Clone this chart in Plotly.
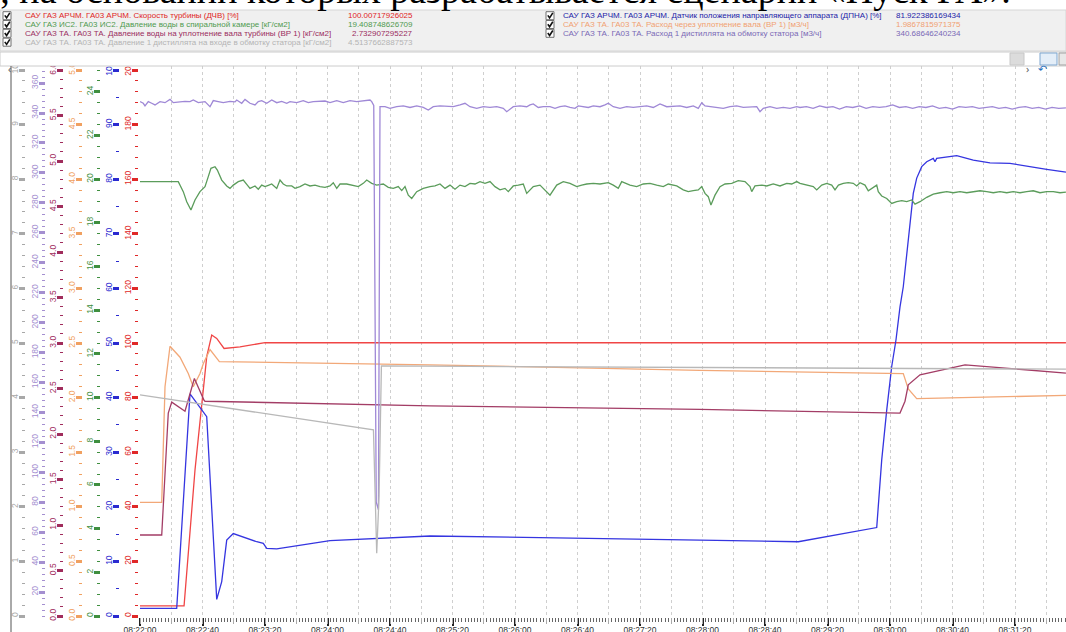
import plotly.graph_objects as go
import pandas as pd

W, H = 1066, 632
T0 = pd.Timestamp("2024-01-01 08:22:00")
T_END_S = 592.64

headline = "и, на основании которых разрабатывается сценарий «Пуск ГА»."

legend_names = [
    "САУ ГАЗ АРЧМ. ГА03 АРЧМ. Скорость турбины (ДЧВ) [%]",
    "САУ ГАЗ ИС2. ГА03 ИС2. Давление воды в спиральной камере [кГ/см2]",
    "САУ ГАЗ ТА. ГА03 ТА. Давление воды на уплотнение вала турбины (ВР 1) [кГ/см2]",
    "САУ ГАЗ ТА. ГА03 ТА. Давление 1 дистиллята на входе в обмотку статора [кГ/см2]",
    "САУ ГАЗ АРЧМ. ГА03 АРЧМ. Датчик положения направляющего аппарата (ДПНА) [%]",
    "САУ ГАЗ ТА. ГА03 ТА. Расход через уплотнение вала (ВР 1) [м3/ч]",
    "САУ ГАЗ ТА. ГА03 ТА. Расход 1 дистиллята на обмотку статора [м3/ч]",
]
legend_values = [
    "100.00717926025", "19.408748626709", "2.732907295227", "4.5137662887573",
    "81.922386169434", "1.9867815971375", "340.68646240234",
]

# ---------- series (time in seconds after 08:22:00, value in own units) ----------
red_t = [0, 28.2, 35.2, 42.7, 45.9, 49.1, 53.8, 64.0, 80.0, 592.6]
red_v = [3.7, 3.7, 53.5, 95.0, 102.9, 101.7, 98.0, 98.6, 100.1, 100.1]

blue_t = [0, 23.5, 32.0, 42.7, 49.1, 52.3, 55.5, 59.7, 74.7, 78.9, 81.1, 87.5, 121.6,
          151.5, 177.1, 185.6, 358.4, 421.3, 471.5, 474.7, 477.9, 481.1, 483.8, 486.4,
          488.5, 490.7, 492.8, 494.9, 497.1, 500.3, 503.5, 507.7, 508.8, 509.9, 522.7,
          533.3, 544.0, 556.8, 580.3, 592.6]
blue_v = [1.4, 1.4, 40.7, 36.5, 3.05, 6.3, 13.9, 15.1, 13.6, 13.3, 12.4, 12.3, 13.8,
          14.2, 14.65, 14.65, 13.9, 13.6, 16.2, 28.6, 37.7, 45.7, 50.5, 56.6,
          60.3, 66.4, 72.5, 77.4, 80.2, 82.3, 83.2, 83.8, 83.2, 83.8, 84.3,
          83.5, 83.0, 82.9, 81.8, 81.3]

green_t = [0, 24.5, 27.7, 29.9, 32.6, 35.2, 38.4, 41.6, 43.7, 45.4, 48.0, 49.5, 52.3, 55.5,
           57.6, 59.7, 62.9, 66.1, 68.7, 70.4, 73.6, 75.7, 77.9, 80.0, 82.1, 84.3, 87.5,
           89.6, 91.7, 93.9, 97.1, 99.2, 102.4, 105.6, 108.8, 112.0, 115.2, 118.4, 121.6,
           123.7, 125.9, 128.0, 132.3, 136.5, 139.7, 142.9, 145.1, 148.3, 151.5, 155.7,
           158.9, 162.1, 165.3, 167.5, 169.6, 171.7, 173.9, 177.1, 181.3, 185.6, 188.8,
           192.0, 195.2, 198.4, 201.6, 204.8, 208.0, 211.2, 214.4, 217.6, 220.8, 224.0,
           227.2, 230.4, 233.6, 235.7, 238.9, 242.1, 245.3, 247.5, 249.6,
           251.7, 256.0, 262.4, 266.7, 270.9, 275.2, 279.5, 282.7, 285.9, 290.1, 294.4,
           299.7, 302.9, 306.1, 308.3, 313.6, 317.9, 322.1, 326.4, 330.7, 334.9, 338.1,
           343.5, 347.7, 350.9, 354.1, 357.3, 359.5, 361.6, 363.7, 365.4, 368.0, 371.2,
           374.4, 378.7, 382.9, 387.2, 390.4, 391.5, 393.6, 397.9, 401.1, 405.3, 409.6,
           413.9, 417.1, 420.3, 422.4,
           426.7, 430.9, 433.1, 436.3, 439.5, 442.7, 444.8, 447.0, 450.1, 453.3, 456.5,
           458.7, 460.8, 464.0, 466.1, 468.3, 471.5, 472.5, 474.7, 477.9, 481.1, 484.3,
           487.5, 490.7, 493.9, 496.0, 499.2, 503.5, 507.7, 512.0, 516.3, 520.5, 524.8,
           529.1, 533.3, 537.6, 541.9, 546.1, 550.4, 554.7, 558.9, 563.2, 567.5, 571.7,
           576.0, 580.3, 584.5, 588.8, 592.6]
green_v = [19.89, 19.89, 19.43, 18.97, 18.59, 19.05, 19.43, 19.66, 20.12, 20.50, 20.57, 20.42,
           19.96, 19.69, 19.58, 19.73, 19.89, 19.96, 19.73, 19.58, 19.69, 19.54, 19.73, 19.66,
           19.72, 19.78, 19.58, 19.96, 19.78, 19.69, 19.69, 19.58, 19.66, 19.78, 19.69, 19.73,
           19.66, 19.63, 19.69, 19.84, 19.58, 19.78, 19.78, 19.73, 19.66, 19.81, 19.96, 19.81,
           19.73, 19.78, 19.63, 19.58, 19.66, 19.48, 19.66, 19.27, 19.12, 19.43, 19.58, 19.66,
           19.69, 19.78, 19.58, 19.73, 19.54, 19.73, 19.66, 19.81, 19.78, 19.89, 19.81, 19.89,
           19.66, 19.51, 19.58, 19.43, 19.69, 19.73, 19.78, 19.35, 19.51,
           19.66, 19.73, 19.27, 19.73, 19.89, 19.81, 19.66, 19.73, 19.78, 19.81, 19.78,
           19.84, 19.73, 19.58, 19.89, 19.73, 19.66, 19.78, 19.81, 19.73, 19.66, 19.78,
           19.69, 19.51, 19.43, 19.48, 19.51, 19.66, 19.35, 19.20, 18.82, 19.27, 19.66,
           19.78, 19.81, 19.93, 19.89, 19.66, 19.43, 19.69, 19.73, 19.69, 19.78, 19.69,
           19.81, 19.78, 19.89, 19.81,
           19.73, 19.66, 19.51, 19.73, 19.81, 19.73, 19.51, 19.73, 19.81, 19.84, 19.81,
           19.69, 19.84, 19.73, 19.47, 19.58, 19.73, 19.43, 19.23, 19.12, 18.89, 18.97,
           19.02, 18.97, 19.05, 18.86, 18.97, 19.17, 19.32, 19.38, 19.43, 19.38, 19.43,
           19.38, 19.43, 19.47, 19.43, 19.38, 19.43, 19.38, 19.43, 19.38, 19.43, 19.47,
           19.38, 19.43, 19.43, 19.38, 19.41]

maroon_t = [0, 13.9, 18.1, 20.3, 28.8, 34.8, 41.0, 41.6, 185.6, 358.4, 486.4, 489.6,
            491.7, 499.2, 528.0, 592.6]
maroon_v = [0.89, 0.89, 2.23, 2.35, 2.25, 2.61, 2.37, 2.36, 2.31, 2.27, 2.23, 2.36,
            2.54, 2.65, 2.76, 2.67]

orange_t = [0, 13.9, 16.0, 19.2, 25.6, 30.9, 34.1, 38.4, 40.5, 44.8, 50.8, 185.6, 358.4,
            488.5, 491.7, 497.1, 592.6]
orange_v = [1.04, 1.04, 2.10, 2.47, 2.37, 2.22, 2.10, 2.22, 2.31, 2.44, 2.33, 2.30, 2.25,
            2.22, 2.08, 1.99, 2.02]

gray_t = [0, 148.3, 149.4, 151.5, 153.0, 154.5, 350.0, 592.6]
gray_v = [4.05, 3.42, 3.41, 1.15, 2.2, 4.58, 4.555, 4.52]

purple_t = [0, 2.1, 3.2, 5.3, 7.5, 9.6, 12.8, 16.0, 19.2, 21.3, 25.6, 28.8, 32.0, 34.1, 37.3,
            41.6, 44.8, 46.9, 50.1, 53.3, 57.6, 60.8, 61.9, 65.1, 67.2, 70.4, 73.6, 75.7,
            77.9, 81.1, 84.3, 87.5, 90.7, 93.9, 96.0, 100.3, 104.5, 107.7, 110.9, 114.1,
            118.4, 121.6, 125.9, 130.1, 134.4, 138.7, 142.9, 147.2, 148.3,
            149.6, 151.2, 152.6,
            153.6, 156.8, 160.0, 164.3, 168.5, 172.8, 177.1, 181.3, 184.5, 187.7, 192.0,
            196.3, 200.5, 204.8, 208.0, 211.2, 215.5, 219.7, 224.0, 228.3, 232.5, 234.7,
            238.9, 243.2, 247.5,
            249.6, 251.7, 254.9, 258.1, 262.4, 265.6, 268.8, 272.0, 275.2, 278.4, 280.5,
            283.7, 286.9, 290.1, 294.4, 297.6, 299.7, 302.9, 307.2, 311.5, 315.7, 320.0,
            324.3, 328.5, 332.8, 337.1, 341.3, 345.6, 349.9, 354.1, 357.3, 359.5, 361.6,
            364.8, 369.1, 373.3, 377.6, 381.9, 386.1, 390.4, 394.7, 396.8, 398.9, 403.2,
            407.5, 411.7, 416.0, 420.3, 422.4,
            426.5, 430.8, 435.0, 439.2, 443.5, 447.7, 452.0, 456.2, 460.5, 464.7, 469.0,
            473.2, 477.5, 481.7, 486.0, 490.2, 494.5, 498.7, 503.0, 507.2, 511.5, 515.7,
            520.0, 524.2, 528.5, 532.7, 537.0, 541.2, 545.5, 549.7, 554.0, 558.2, 562.5,
            566.7, 571.0, 575.2, 579.5, 583.7, 588.0, 592.6]
purple_v = [347.6, 346.5, 344.7, 347.6, 346.5, 345.4, 347.6, 346.9, 349.1, 346.9, 347.4, 347.8,
            347.6, 348.7, 346.9, 347.6, 344.2, 348.3, 347.6, 346.9, 347.8, 347.4, 348.7, 346.5,
            349.1, 346.5, 345.4, 347.6, 348.3, 346.5, 348.7, 346.9, 347.8, 346.5, 347.6, 346.9,
            348.3, 346.9, 347.6, 347.6, 348.0, 346.9, 348.3, 346.9, 348.3, 347.6, 348.3, 348.7,
            347.6,
            345.0, 80.0, 75.0,
            344.2, 344.2, 343.1, 344.2, 344.7, 343.7, 344.7, 343.7, 342.0, 344.2, 344.7,
            344.2, 344.2, 345.4, 346.5, 344.2, 343.1, 344.2, 343.7, 344.2, 343.1, 340.9,
            344.2, 344.7, 344.2,
            345.4, 346.1, 343.7, 344.2, 344.2, 343.1, 344.2, 344.7, 343.7, 343.1, 344.7,
            344.2, 343.7, 344.7, 344.2, 345.4, 346.5, 344.2, 343.1, 344.2, 343.7, 344.2,
            344.7, 343.7, 346.1, 344.2, 344.2, 344.7, 343.7, 344.7, 343.1, 346.9, 344.7,
            344.2, 343.7, 343.1, 344.2, 344.7, 343.7, 344.2, 344.2, 340.9, 343.1, 344.2,
            343.1, 343.7, 343.1, 344.2, 343.7,
            344.2, 343.1, 344.7, 343.7, 344.2, 342.6, 344.2, 343.7, 344.7, 343.1, 344.2,
            343.7, 344.2, 345.4, 343.7, 344.2, 343.1, 344.2, 343.7, 344.7, 343.1, 343.7,
            342.6, 344.2, 343.7, 344.2, 343.1, 343.7, 344.2, 343.1, 343.7, 342.6, 343.7,
            344.2, 343.1, 343.7, 342.6, 343.7, 343.1, 343.4]

# ---------- styling ----------
line_colors = {"red": "#f04545", "blue": "#3535e0", "green": "#5b9c5b", "maroon": "#a33d66",
               "orange": "#f2a878", "purple": "#9f88d6", "gray": "#b8b8b8"}
legend_colors = ["#e02525", "#4f9a4f", "#9b2d60", "#b4b4b4", "#1c1ca8", "#f0a070", "#7a68b6"]

PLOT_TOP, PLOT_BOT, PLOT_LEFT = 66, 617, 140


def xp(px):
    return px / W


def yp(py):
    return (PLOT_BOT - py) / (PLOT_BOT - PLOT_TOP)


def tt(secs):
    return [T0 + pd.Timedelta(seconds=s) for s in secs]


fig = go.Figure()
fig.add_trace(go.Scatter(x=[], y=[], xaxis="x2", yaxis="y", showlegend=False, hoverinfo="skip"))
series = [
    (gray_t, gray_v, "gray", "y7"),
    (purple_t, purple_v, "purple", "y6"),
    (green_t, green_v, "green", "y3"),
    (orange_t, orange_v, "orange", "y4"),
    (maroon_t, maroon_v, "maroon", "y5"),
    (red_t, red_v, "red", "y"),
    (blue_t, blue_v, "blue", "y2"),
]
for t, v, c, ax in series:
    fig.add_trace(go.Scatter(x=tt(t), y=v, mode="lines", yaxis=ax, showlegend=False,
                             line=dict(color=line_colors[c], width=1.3)))


def yax(color, rng, dtick, mdtick, pos, fmt, overlay=True):
    d = dict(range=rng, dtick=dtick, tick0=0, anchor="free", position=pos / W, side="left",
             ticks="outside", ticklen=6, tickwidth=3, tickcolor=color, tickangle=-90,
             ticklabelstandoff=-2,
             tickfont=dict(size=8.5, color=color, family="Liberation Sans"), tickformat=fmt,
             showgrid=False, zeroline=False, showline=False, fixedrange=True, automargin=False,
             minor=dict(dtick=mdtick, tick0=0, ticks="outside", ticklen=3, tickwidth=1,
                        tickcolor=color, showgrid=False))
    if overlay:
        d["overlaying"] = "y"
    return d


def std_range(m):
    return [-m / 546, m * 550 / 546]


x_range = [T0, T0 + pd.Timedelta(seconds=T_END_S)]

fig.update_layout(
    width=W, height=H, margin=dict(l=0, r=0, t=PLOT_TOP, b=H - PLOT_BOT, autoexpand=False),
    paper_bgcolor="white", plot_bgcolor="white", showlegend=False,
    xaxis=dict(domain=[xp(PLOT_LEFT), 1], range=x_range, type="date", anchor="y", automargin=False,
               tickformat="%H:%M:%S", tick0=T0, dtick=40000, ticks="outside", ticklen=8,
               tickwidth=2, tickcolor="#222", ticklabelstandoff=-3,
               tickfont=dict(size=8.5, color="#333", family="Liberation Sans"),
               showgrid=False, zeroline=False, showline=False,
               minor=dict(dtick=2000, tick0=T0, ticks="outside", ticklen=4, tickwidth=1, tickcolor="#666")),
    xaxis2=dict(domain=[xp(PLOT_LEFT), 1], range=x_range, type="date", overlaying="x", anchor="y",
                automargin=False, tick0=T0, dtick=20000, ticks="outside", ticklen=6, tickwidth=1,
                tickcolor="#aaa", showticklabels=False, showgrid=True, gridcolor="#cfcfcf",
                griddash="dot", gridwidth=1, zeroline=False, showline=False),
    yaxis=yax("#e02828", std_range(200), 20, 4, 138, "d", overlay=False),
    yaxis2=yax("#2a2ad0", std_range(100), 10, 5, 119, "d"),
    yaxis3=yax("#3f8f3f", std_range(25), 2, 0.5, 100, "d"),
    yaxis4=yax("#f0a060", std_range(5), 0.5, 0.1, 82, ".1f"),
    yaxis5=yax("#a02c5c", std_range(6), 0.5, 0.1, 63, ".1f"),
    yaxis6=yax("#a48fd0", [3.34, 371.4], 20, 4, 45, "d"),
    yaxis7=yax("#a8a8a8", std_range(10), 1, 0.2, 25, "d"),
)

shapes = []
annotations = []
# legend panel
shapes.append(dict(type="rect", xref="paper", yref="paper", x0=0, x1=1, y0=yp(51), y1=yp(10),
                   fillcolor="#f0f0f0", line=dict(color="#d6d6d6", width=1), layer="above"))
# scroll row
shapes.append(dict(type="rect", xref="paper", yref="paper", x0=0, x1=1, y0=yp(66), y1=yp(52),
                   fillcolor="#ffffff", line=dict(color="#cccccc", width=1), layer="above"))
shapes.append(dict(type="rect", xref="paper", yref="paper", x0=xp(1010), x1=xp(1024), y0=yp(65), y1=yp(53),
                   fillcolor="#dcdcdc", line=dict(color="#c8c8c8", width=1), layer="above"))
shapes.append(dict(type="rect", xref="paper", yref="paper", x0=xp(1040), x1=xp(1057), y0=yp(65), y1=yp(53),
                   fillcolor="#e4eef8", line=dict(color="#7fa7d0", width=1), layer="above"))
shapes.append(dict(type="rect", xref="paper", yref="paper", x0=xp(1059), x1=xp(1070), y0=yp(65), y1=yp(53),
                   fillcolor="#e8e8e8", line=dict(color="#a0a0a0", width=1), layer="above"))
annotations.append(dict(text="‹", x=xp(6), y=yp(59), xref="paper", yref="paper", showarrow=False,
                        font=dict(size=11, color="#555")))
annotations.append(dict(text="›", x=xp(1031), y=yp(59), xref="paper", yref="paper", showarrow=False,
                        font=dict(size=11, color="#555")))
annotations.append(dict(text="↶", x=xp(1048.5), y=yp(59), xref="paper", yref="paper", showarrow=False,
                        font=dict(size=11, color="#1f6fc0")))
# left border of chart panel
shapes.append(dict(type="line", xref="paper", yref="paper", x0=xp(11), x1=xp(11), y0=yp(632), y1=yp(66),
                   line=dict(color="#555555", width=1)))

rows_y = [15.7, 24.5, 33.3, 42.2]
for i in range(7):
    if i < 4:
        cx, tx, vx, ry = 3, 23, 415, rows_y[i]
    else:
        cx, tx, vx, ry = 546, 561, 963, rows_y[i - 4]
    shapes.append(dict(type="rect", xref="paper", yref="paper", x0=xp(cx), x1=xp(cx + 8),
                       y0=yp(ry + 4), y1=yp(ry - 4), fillcolor="white",
                       line=dict(color="#707070", width=1), layer="above"))
    check = "M {:.5f} {:.5f} L {:.5f} {:.5f} L {:.5f} {:.5f}".format(
        xp(cx + 1.8), yp(ry - 0.3), xp(cx + 3.6), yp(ry + 2.2), xp(cx + 6.8), yp(ry - 2.8))
    shapes.append(dict(type="path", xref="paper", yref="paper", path=check,
                       line=dict(color="#111111", width=1.6), layer="above"))
    annotations.append(dict(text=legend_names[i], x=xp(tx), y=yp(ry), xref="paper", yref="paper",
                            xanchor="left", yanchor="middle", showarrow=False,
                            font=dict(size=8, color=legend_colors[i], family="Liberation Sans")))
    annotations.append(dict(text=legend_values[i], x=xp(vx), y=yp(ry), xref="paper", yref="paper",
                            xanchor="right", yanchor="middle", showarrow=False,
                            font=dict(size=8, color=legend_colors[i], family="Liberation Sans")))

# clipped headline from surrounding document
annotations.append(dict(text=headline, x=xp(1013), y=yp(12.5), xref="paper", yref="paper",
                        xanchor="right", yanchor="bottom", showarrow=False,
                        font=dict(size=38, color="black", family="Liberation Serif")))

fig.update_layout(shapes=shapes, annotations=annotations)
fig.write_html("out.html", config={"displayModeBar": False},
               post_script="document.body.style.margin='0';document.body.style.overflow='hidden';")
